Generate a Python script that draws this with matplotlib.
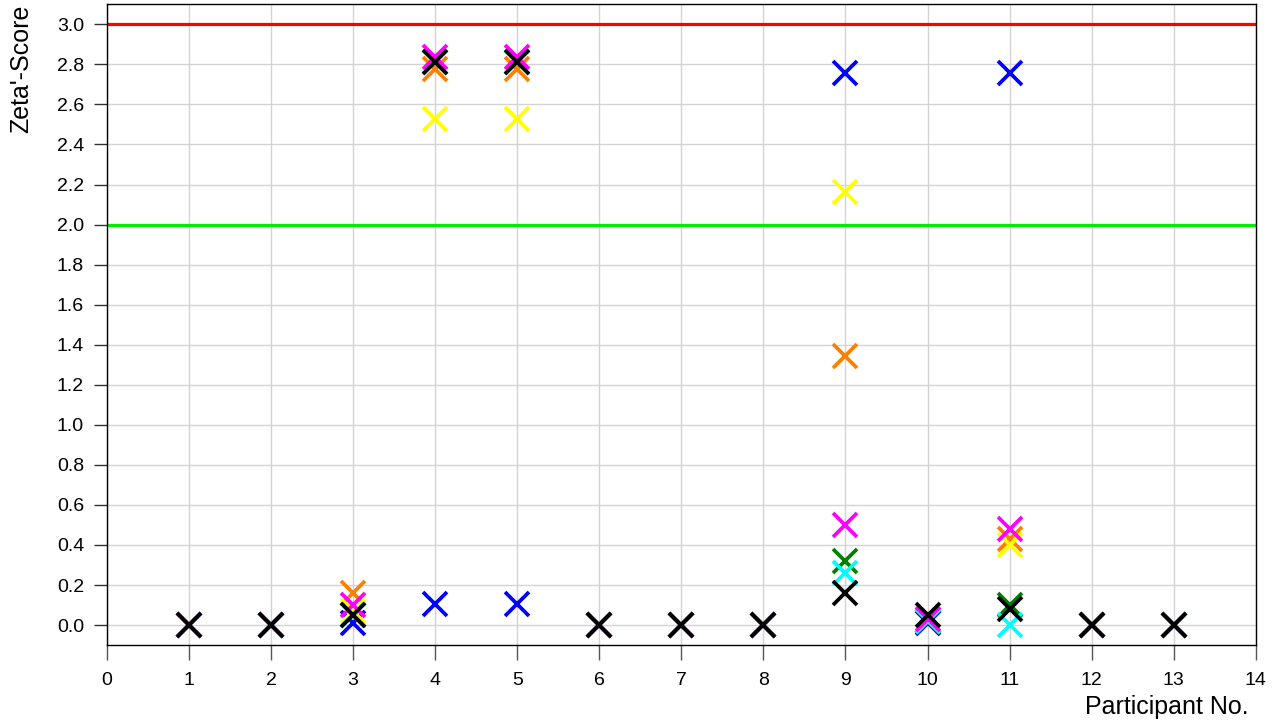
import matplotlib
matplotlib.use("Agg")
import matplotlib.pyplot as plt
import numpy as np

plt.rcParams['font.family'] = ['Liberation Sans', 'DejaVu Sans']

participants = [1, 2, 3, 4, 5, 6, 7, 8, 9, 10, 11, 12, 13]

# Zeta'-scores per series (one value per participant)
blue    = [0.0, 0.0, 0.01, 0.105, 0.105, 0.0, 0.0, 0.0, 2.755, 0.01, 2.755, 0.0, 0.0]
orange  = [0.0, 0.0, 0.16, 2.775, 2.775, 0.0, 0.0, 0.0, 1.345, 0.02, 0.43, 0.0, 0.0]
yellow  = [0.0, 0.0, 0.07, 2.525, 2.525, 0.0, 0.0, 0.0, 2.165, 0.02, 0.40, 0.0, 0.0]
green   = [0.0, 0.0, 0.05, 2.81, 2.81, 0.0, 0.0, 0.0, 0.32, 0.02, 0.10, 0.0, 0.0]
cyan    = [0.0, 0.0, 0.05, 2.81, 2.81, 0.0, 0.0, 0.0, 0.26, 0.02, 0.0, 0.0, 0.0]
magenta = [0.0, 0.0, 0.10, 2.835, 2.835, 0.0, 0.0, 0.0, 0.50, 0.03, 0.48, 0.0, 0.0]
black   = [0.0, 0.0, 0.05, 2.81, 2.81, 0.0, 0.0, 0.0, 0.16, 0.05, 0.08, 0.0, 0.0]

series = [
    (blue, "#0000ff"),
    (orange, "#ff8000"),
    (yellow, "#ffff00"),
    (green, "#008000"),
    (cyan, "#00ffff"),
    (magenta, "#ff00ff"),
    (black, "#000000"),
]

upper_limit = 3.0
lower_limit = 2.0

fig = plt.figure(figsize=(12.84, 7.2), dpi=100)
ax = fig.add_axes([0.0833, 0.104, 0.8947, 0.890])

ax.set_xlim(0, 14)
ax.set_ylim(-0.1, 3.1)
ax.set_xticks(np.arange(0, 15, 1))
ax.set_yticks(np.arange(0, 3.01, 0.2))
ax.set_yticklabels([f"{v:.1f}" for v in np.arange(0, 3.01, 0.2)])
ax.grid(True, color="#d3d3d3", linewidth=1.0)
ax.set_axisbelow(True)

ax.axhline(upper_limit, color="#ff0000", linewidth=2.3, zorder=2)
ax.axhline(lower_limit, color="#00ee00", linewidth=2.3, zorder=2)

for values, color in series:
    ax.plot(participants, values, linestyle="none", marker="x",
            markersize=17.5, markeredgewidth=2.7, color=color, zorder=3)

ax.tick_params(axis="x", direction="out", length=11, width=1, labelsize=14,
               pad=8, color="#555555")
ax.tick_params(axis="y", direction="out", length=9.5, width=1, labelsize=14,
               pad=7, color="#333333")
for sp in ax.spines.values():
    sp.set_linewidth(1.0)

ax.set_xlabel("Participant No.", fontsize=18, loc="right")
ax.set_ylabel("Zeta'-Score", fontsize=18, loc="top")
ax.xaxis.set_label_coords(0.9935, -0.078, transform=ax.transAxes)
ax.yaxis.set_label_coords(-0.064, 1.0, transform=ax.transAxes)
ax.xaxis.label.set_va("top")

fig.savefig("out.png", dpi=100)
